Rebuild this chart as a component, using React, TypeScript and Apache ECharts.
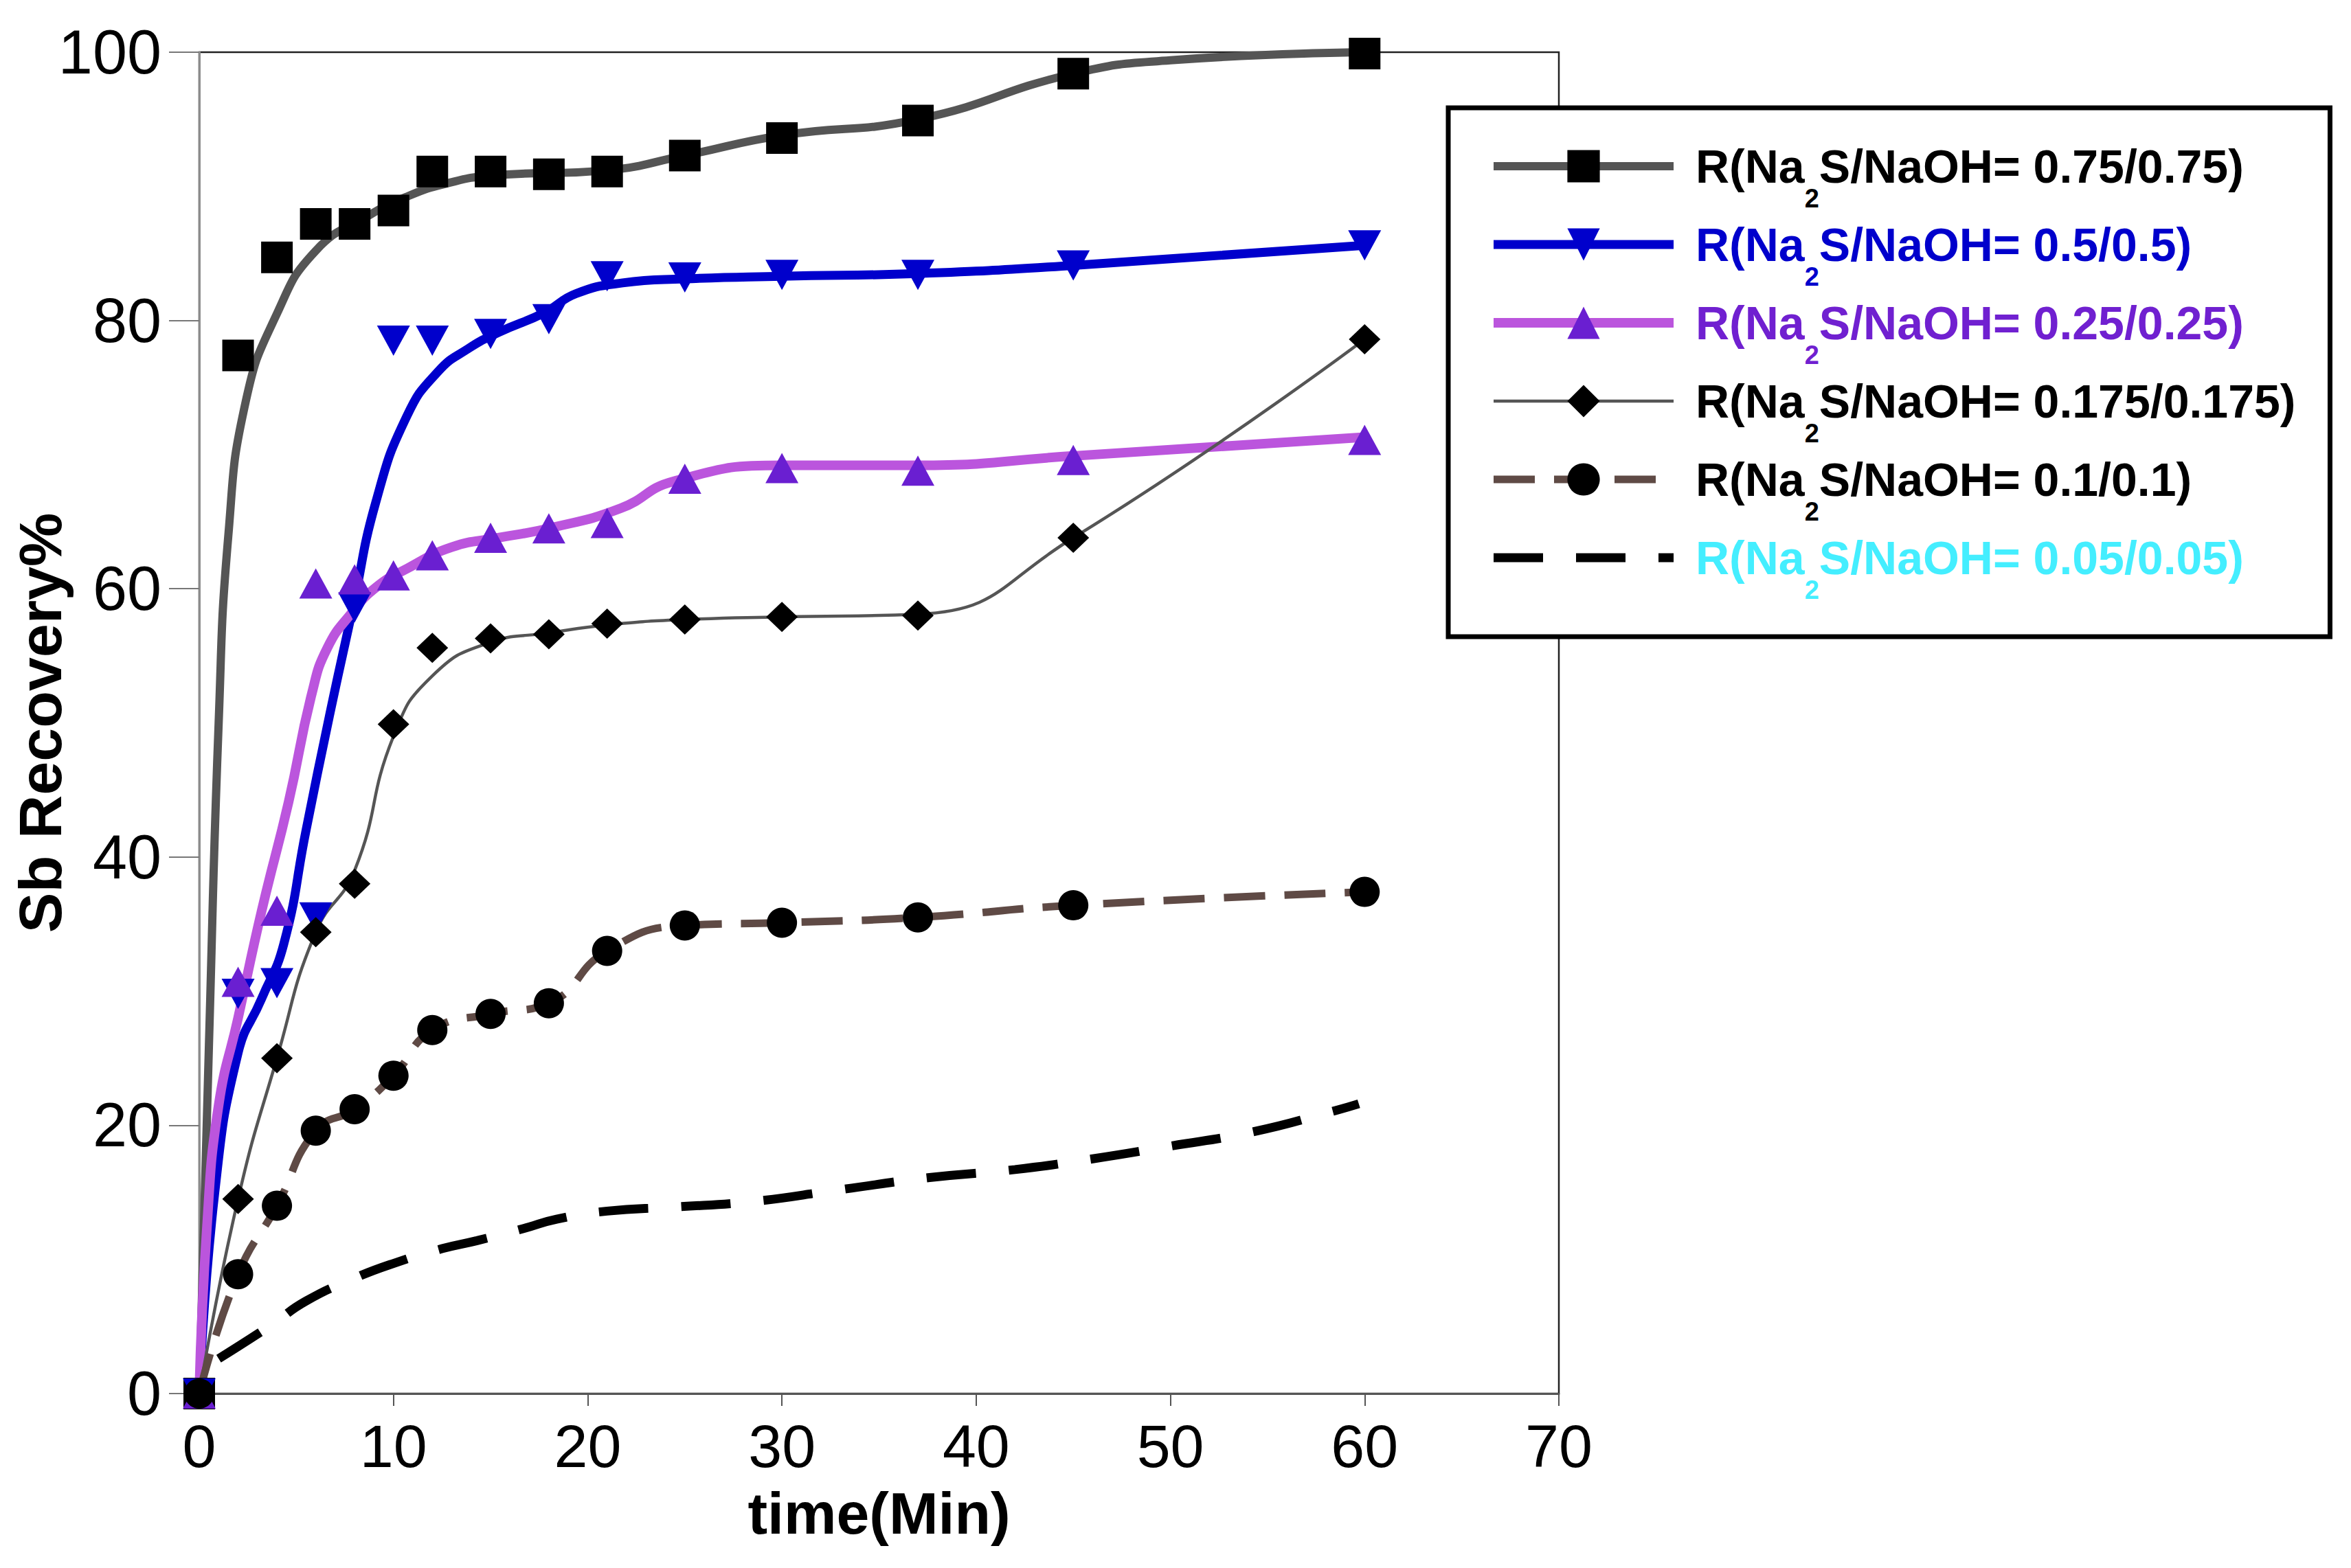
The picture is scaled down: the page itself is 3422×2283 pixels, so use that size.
import React, { useEffect, useRef } from "react";
import * as echarts from "echarts";

// legend ratios (Na2S/NaOH)
const ratios = ["0.75/0.75", "0.5/0.5", "0.25/0.25", "0.175/0.175", "0.1/0.1", "0.05/0.05"];
const seriesNames = ratios.map((r) => `R(Na2S/NaOH= ${r})`);

// sampling times (min) of the marked points
const times = [0, 2, 4, 6, 8, 10, 12, 15, 18, 21, 25, 30, 37, 45, 60];

// measured Sb recovery % at each sampling time
const points075 = [0, 77.4, 84.7, 87.2, 87.2, 88.2, 91.1, 91.1, 90.9, 91.1, 92.3, 93.6, 94.9, 98.4, 99.9];
const points050 = [0, 29.8, 30.6, 35.5, 58.6, 78.5, 78.5, 79.0, 80.1, 83.3, 83.2, 83.4, 83.4, 84.1, 85.6];
const points025 = [0, 30.7, 36.0, 60.4, 60.7, 61.0, 62.5, 63.8, 64.5, 64.9, 68.2, 69.0, 68.8, 69.6, 71.1];
const points0175 = [0, 14.5, 25.0, 34.4, 38.0, 49.9, 55.6, 56.3, 56.6, 57.4, 57.7, 57.9, 58.0, 63.8, 78.6];
const points010 = [0, 8.9, 14.0, 19.6, 21.2, 23.7, 27.1, 28.3, 29.1, 33.0, 34.9, 35.1, 35.5, 36.4, 37.4];

// fitted curves as drawn in the figure, [time, recovery]
const curve075 = [
  [0, 0], [0.5, 26], [1, 50], [1.5, 64], [2.4, 74], [4, 80.5], [6, 85.2], [8.7, 87.8],
  [10.8, 89.3], [12.7, 90.2], [15, 90.8], [21, 91.2], [25, 92.3], [30, 93.8], [37, 95.0],
  [45, 98.4], [50, 99.4], [60, 100],
];
const curve050 = [
  [0, 0], [0.8, 15], [2, 25.4], [3.2, 29.4], [4.35, 33.5], [5.5, 42], [6.7, 50.5], [7.9, 58.5],
  [9.1, 66.5], [10.7, 72.9], [12.3, 76.2], [13.85, 77.9], [15.4, 79.1], [17.8, 80.6],
  [19.4, 82], [21.8, 82.8], [25, 83.1], [30, 83.3], [37, 83.5], [45, 84.1], [60, 85.6],
];
const curve025 = [
  [0, 0], [0.4, 12.5], [1, 21.5], [2, 28], [3.2, 35.9], [4.6, 44.1], [5.8, 52.2], [6.6, 55.6],
  [7.85, 58.2], [9.1, 60.1], [10.7, 61.5], [13, 63.1], [15.4, 63.8], [18, 64.5], [21.7, 66],
  [24.4, 68], [30, 69.2], [37, 69.2], [45, 69.9], [60, 71.3],
];
const curve0175 = [
  [0, 0], [2, 14.5], [4, 25], [6, 34.4], [8, 39], [10, 49], [12, 53.5], [15, 56], [18, 56.7],
  [21, 57.3], [25, 57.7], [30, 57.9], [37, 58.1], [45, 63.8], [60, 78.6],
];
const curve005 = [
  [1, 2.6], [3.7, 5.1], [5.5, 6.9], [8, 8.6], [10, 9.7], [12.5, 10.8], [14.3, 11.4], [16.7, 12.3],
  [18.4, 13.0], [21, 13.6], [24.4, 13.9], [28.4, 14.3], [33, 15.2], [37.6, 16.1], [42, 16.7],
  [46, 17.5], [49.8, 18.4], [54.2, 19.5], [58.5, 21.1], [59.7, 21.6],
];

const xTicks = [0, 10, 20, 30, 40, 50, 60, 70];
const yTicks = [0, 20, 40, 60, 80, 100];

const FONT = '"Liberation Sans", Arial, Helvetica, sans-serif';

const zip = (vals: number[]) => times.map((t, i) => [t, vals[i]]);

const richFor = (color: string) => ({
  a: { color, fontSize: 68, fontWeight: "bold", fontFamily: FONT, lineHeight: 70, padding: [0, 0, 0, 27] },
  sub: { color, fontSize: 38, fontWeight: "bold", fontFamily: FONT, lineHeight: 38, padding: [94, 0, 0, 0] },
  b: { color, fontSize: 68, fontWeight: "bold", fontFamily: FONT, lineHeight: 70 },
});

const App: React.FC = () => {
  const chartRef = useRef<HTMLDivElement>(null);

  useEffect(() => {
    document.body.style.margin = "0";
    const chart = echarts.init(chartRef.current!, undefined, { renderer: "svg" });

    const downTri = "path://M0,0L10,0L5,10Z";

    const styles = [
      { curve: curve075, pts: points075, line: "#555555", width: 12, dash: "solid" as any, marker: "#000000", symbol: "rect", size: [46, 46], text: "#000000" },
      { curve: curve050, pts: points050, line: "#0000cc", width: 13, dash: "solid" as any, marker: "#0000cc", symbol: downTri, size: [48, 44], text: "#0000cc" },
      { curve: curve025, pts: points025, line: "#bb55dd", width: 14, dash: "solid" as any, marker: "#6a1fd1", symbol: "triangle", size: [48, 44], text: "#7020d0" },
      { curve: curve0175, pts: points0175, line: "#555555", width: 4.5, dash: "solid" as any, marker: "#000000", symbol: "diamond", size: [46, 44], text: "#000000" },
      { curve: zip(points010), pts: points010, line: "#5f4a45", width: 11, dash: [60, 28] as any, marker: "#000000", symbol: "circle", size: [44, 44], text: "#000000" },
      { curve: curve005, pts: null, line: "#000000", width: 13, dash: [72, 48] as any, marker: "rgba(0,0,0,0)", symbol: "circle", size: [0, 0], text: "#44eeff" },
    ];

    const lineSeries = styles.map((s, i) => ({
      name: seriesNames[i],
      type: "line",
      data: s.curve,
      showSymbol: false,
      symbol: s.symbol,
      smooth: 0.5,
      lineStyle: { color: s.line, width: s.width, type: s.dash, cap: "butt" },
      itemStyle: { color: s.marker, borderWidth: 0, borderColor: "rgba(0,0,0,0)" },
      z: 2,
    }));

    const markerSeries = styles
      .map((s, i) => ({ s, i }))
      .filter(({ s }) => s.pts)
      .map(({ s, i }) => ({
        name: seriesNames[i],
        type: "scatter",
        data: zip(s.pts as number[]),
        symbol: s.symbol,
        symbolSize: s.size,
        itemStyle: { color: s.marker, opacity: 1 },
        z: 3,
      }));

    const option: any = {
      animation: false,
      backgroundColor: "#ffffff",
      grid: {
        left: 290,
        right: 1153,
        top: 76,
        bottom: 254,
        outerBoundsMode: "none",
        containLabel: false,
        show: true,
        borderColor: "#222222",
        borderWidth: 2.5,
        backgroundColor: "transparent",
      },
      xAxis: {
        type: "value",
        min: xTicks[0],
        max: xTicks[xTicks.length - 1],
        interval: 10,
        name: "time(Min)",
        nameLocation: "middle",
        nameGap: 139,
        nameMoveOverlap: false,
        nameTextStyle: { fontFamily: FONT, fontWeight: "bold", fontSize: 86, lineHeight: 70, color: "#000" },
        axisLine: { lineStyle: { color: "#555555", width: 3 } },
        axisTick: { inside: false, length: 18, lineStyle: { color: "#555555", width: 2 } },
        axisLabel: { margin: 43, fontFamily: FONT, fontSize: 88, lineHeight: 66, color: "#000" },
        splitLine: { show: false },
      },
      yAxis: {
        type: "value",
        min: yTicks[0],
        max: yTicks[yTicks.length - 1],
        interval: 20,
        name: "Sb Recovery%",
        nameLocation: "middle",
        nameGap: 188,
        nameMoveOverlap: false,
        nameTextStyle: { fontFamily: FONT, fontWeight: "bold", fontSize: 88, color: "#000" },
        axisLine: { lineStyle: { color: "#8c8c8c", width: 3 } },
        axisTick: { inside: false, length: 44, lineStyle: { color: "#777777", width: 2 } },
        axisLabel: { margin: 55, fontFamily: FONT, fontSize: 90, color: "#000" },
        splitLine: { show: false },
      },
      legend: {
        orient: "vertical",
        align: "left",
        left: 2108,
        top: 157,
        padding: [19, 50, 49, 59],
        itemGap: -18,
        itemWidth: 262,
        itemHeight: 59,
        selectedMode: false,
        backgroundColor: "#ffffff",
        borderColor: "#000000",
        borderWidth: 7,
        formatter: (name: string) => {
          const r = name.replace("R(Na2S/NaOH= ", "").replace(/\)$/, "");
          return `{a|R(Na}{sub|2}{b|S/NaOH= ${r})}`;
        },
        data: seriesNames.map((n, i) => ({
          name: n,
          itemStyle: i === 5 ? { opacity: 0 } : undefined,
          lineStyle: { color: styles[i].line, width: styles[i].width, type: styles[i].dash, cap: "butt" },
          textStyle: { color: styles[i].text, rich: richFor(styles[i].text) },
        })),
      },
      series: [...lineSeries, ...markerSeries],
    };

    chart.setOption(option);

    return () => {
      chart.dispose();
    };
  }, []);

  return (
    <div
      ref={chartRef}
      style={{ position: "fixed", left: 0, top: 0, width: "100vw", height: "100vh" }}
    />
  );
};

export default App;
